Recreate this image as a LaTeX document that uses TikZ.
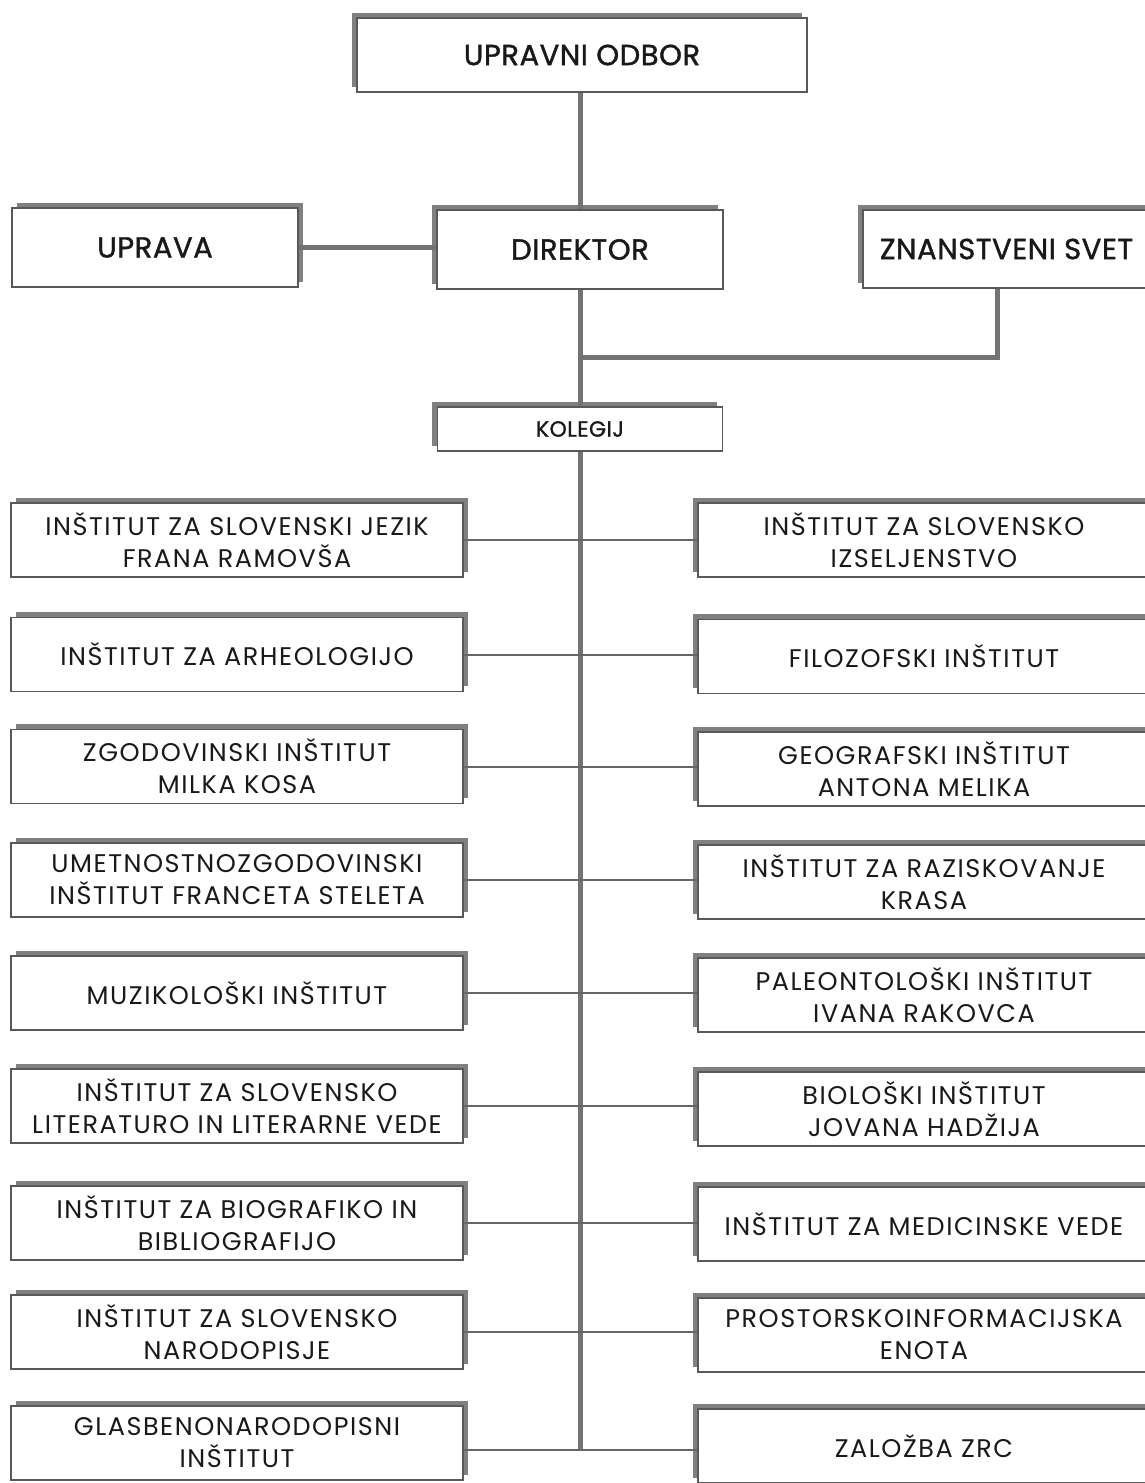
\documentclass[tikz,border=0pt]{standalone}
\usepackage{fontspec}
\setmainfont{Poppins}
\newfontfamily\instfont[LetterSpace=6]{Poppins}
\newfontfamily\headfont[FakeBold=1.3,LetterSpace=2]{Poppins}
\usetikzlibrary{shadows}
\begin{document}
\begin{tikzpicture}[x=1pt,y=-1pt,
  box/.style={draw=black!65,line width=1.6pt,fill=white,inner sep=0pt,align=center,text=black!90},
  shr/.style={drop shadow={shadow xshift=5pt,shadow yshift=5.5pt,fill=black!50,opacity=1}},
  shl/.style={drop shadow={shadow xshift=-5.5pt,shadow yshift=5.5pt,fill=black!50,opacity=1}},
  topbox/.style={box,font=\headfont\fontsize{29}{34}\selectfont},
  inst/.style={box,minimum width=452pt,minimum height=74pt,font=\instfont\fontsize{25.5}{32}\selectfont},
  linst/.style={inst,shr},
  rinst/.style={inst,shl},
  trunk/.style={draw=black!55,line width=5pt},
  conn/.style={draw=black!60,line width=2pt}]
\useasboundingbox (0,0) rectangle (1144,1483);
% top level
\node[topbox,shl,minimum width=450pt,minimum height=74pt] (uo) at (582,55) {UPRAVNI ODBOR};
\node[topbox,shl,minimum width=286pt,minimum height=79pt] (dir) at (580,249.5) {DIREKTOR};
\node[topbox,shr,minimum width=286pt,minimum height=79pt] (upr) at (155,247.5) {UPRAVA};
\node[topbox,shl,minimum width=287pt,minimum height=78pt] (zs) at (1006.5,249) {ZNANSTVENI SVET};
\node[box,shl,minimum width=285pt,minimum height=44pt,font=\headfont\fontsize{22}{24}\selectfont] (kol) at (580,429) {KOLEGIJ};
% institutes left
\node[linst] (l1) at (237,540) {INŠTITUT ZA SLOVENSKI JEZIK\\FRANA RAMOVŠA};
\node[linst] (l2) at (237,654.5) {INŠTITUT ZA ARHEOLOGIJO};
\node[linst] (l3) at (237,766.5) {ZGODOVINSKI INŠTITUT\\MILKA KOSA};
\node[linst] (l4) at (237,880) {UMETNOSTNOZGODOVINSKI\\INŠTITUT FRANCETA STELETA};
\node[linst] (l5) at (237,993) {MUZIKOLOŠKI INŠTITUT};
\node[linst] (l6) at (237,1106) {INŠTITUT ZA SLOVENSKO\\LITERATURO IN LITERARNE VEDE};
\node[linst] (l7) at (237,1223) {INŠTITUT ZA BIOGRAFIKO IN\\BIBLIOGRAFIJO};
\node[linst] (l8) at (237,1332) {INŠTITUT ZA SLOVENSKO\\NARODOPISJE};
\node[linst] (l9) at (237,1443) {GLASBENONARODOPISNI\\INŠTITUT};
% institutes right
\node[rinst] (r1) at (924,540) {INŠTITUT ZA SLOVENSKO\\IZSELJENSTVO};
\node[rinst] (r2) at (924,656.5) {FILOZOFSKI INŠTITUT};
\node[rinst] (r3) at (924,769) {GEOGRAFSKI INŠTITUT\\ANTONA MELIKA};
\node[rinst] (r4) at (924,882) {INŠTITUT ZA RAZISKOVANJE\\KRASA};
\node[rinst] (r5) at (924,995) {PALEONTOLOŠKI INŠTITUT\\IVANA RAKOVCA};
\node[rinst] (r6) at (924,1109) {BIOLOŠKI INŠTITUT\\JOVANA HADŽIJA};
\node[rinst] (r7) at (924,1224) {INŠTITUT ZA MEDICINSKE VEDE};
\node[rinst] (r8) at (924,1335) {PROSTORSKOINFORMACIJSKA\\ENOTA};
\node[rinst] (r9) at (924,1446) {ZALOŽBA ZRC};
% connectors
\coordinate (j) at (580,357);
\coordinate (bot) at (580,1450);
\draw[trunk] (uo.south -| dir.north) -- (dir.north);
\draw[trunk] (upr.east) -- (upr.east -| dir.west);
\draw[trunk] (dir.south) -- (kol.north);
\draw[trunk] (j) -| ([xshift=-9.5pt]zs.south);
\draw[trunk] (kol.south) -- (bot);
\foreach \i in {1,...,8}{\draw[conn] (l\i.east) -- (l\i.east -| r\i.west);}
\draw[conn] (l9.east |- bot) -- (r9.west |- bot);
\end{tikzpicture}
\end{document}
